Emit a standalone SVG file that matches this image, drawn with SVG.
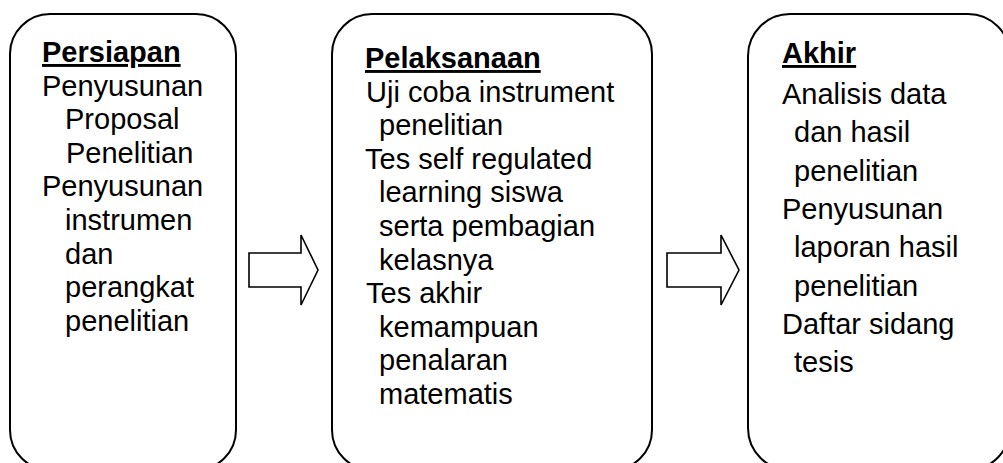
<svg xmlns="http://www.w3.org/2000/svg" width="1003" height="463" viewBox="0 0 1003 463">
<style>
.box{fill:#fff;stroke:#000;stroke-width:2}
.arr{fill:#fff;stroke:#000;stroke-width:1.6;stroke-linejoin:miter}
text{font-family:"Liberation Sans",Arial,sans-serif;font-size:29px;fill:#000}
.h{font-weight:bold;text-decoration:underline}
</style>
<rect width="1003" height="463" fill="#fff"/>
<g id="node-persiapan">
<rect class="box" x="10" y="14" width="226" height="456" rx="40" ry="40"/>
<text class="h" x="42" y="62">Persiapan</text>
<text x="42" y="95.6">Penyusunan</text>
<text x="65" y="129.2">Proposal</text>
<text x="66" y="162.8">Penelitian</text>
<text x="42" y="196.4">Penyusunan</text>
<text x="65" y="230">instrumen</text>
<text x="65" y="263.6">dan</text>
<text x="65" y="297.2">perangkat</text>
<text x="65" y="330.8">penelitian</text>
</g>
<g id="node-pelaksanaan">
<rect class="box" x="332" y="14" width="320" height="456" rx="40" ry="40"/>
<text class="h" x="365" y="68">Pelaksanaan</text>
<text x="366" y="101.6">Uji coba instrument</text>
<text x="379" y="135.2">penelitian</text>
<text x="365" y="168.8">Tes self regulated</text>
<text x="379" y="202.4">learning siswa</text>
<text x="379" y="236">serta pembagian</text>
<text x="379" y="269.6">kelasnya</text>
<text x="366" y="303.2">Tes akhir</text>
<text x="379" y="336.8">kemampuan</text>
<text x="379" y="370.4">penalaran</text>
<text x="379" y="404">matematis</text>
</g>
<g id="node-akhir">
<rect class="box" x="748" y="14" width="262" height="456" rx="42" ry="42"/>
<text class="h" x="782" y="63">Akhir</text>
<text x="782" y="104">Analisis data</text>
<text x="794" y="142.3">dan hasil</text>
<text x="794" y="180.6">penelitian</text>
<text x="782" y="218.9">Penyusunan</text>
<text x="794" y="257.2">laporan hasil</text>
<text x="794" y="295.5">penelitian</text>
<text x="782" y="333.8">Daftar sidang</text>
<text x="794" y="372.1">tesis</text>
</g>
<g id="connectors">
<polygon id="arrow-1" class="arr" points="249,253 301,253 301,235 318,270 301,305 301,287 249,287"/>
<polygon id="arrow-2" class="arr" points="667,253 721,253 721,235 739,270 721,305 721,287 667,287"/>
</g>
</svg>
